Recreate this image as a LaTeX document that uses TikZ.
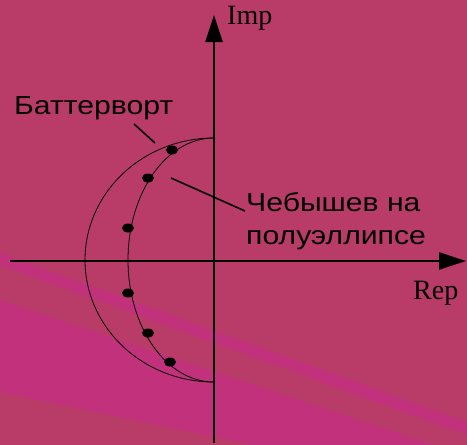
\documentclass[tikz,border=0pt]{standalone}
\usepackage{fontspec}
\setmainfont{Liberation Serif}
\setsansfont{Liberation Sans}
\newfontfamily\labelfont[FakeStretch=1.16]{Liberation Sans}
\usetikzlibrary{arrows.meta,shapes.geometric}

\definecolor{bgrose}{RGB}{185,60,104}
\definecolor{bandrose}{RGB}{194,50,124}

\begin{document}
\begin{tikzpicture}[x=1pt, y=-1pt,
  every node/.style={font=\labelfont\fontsize{26}{33}\selectfont, inner sep=0pt},
  axis/.style={line width=2.4pt, -{Triangle[length=27pt,width=17pt]}},
  curve/.style={line width=0.8pt},
  leader/.style={line width=1.6pt},
  pole/.style={ellipse, fill=black, minimum width=12pt, minimum height=9pt, inner sep=0pt},
  axlabel/.style={font=\rmfamily\fontsize{28}{28}\selectfont, anchor=base west},
]

\useasboundingbox (0,0) rectangle (467,445);
\fill[bgrose] (0,0) rectangle (467,445);
\fill[bandrose] (0,253) -- (467,422) -- (467,435) -- (0,265) -- cycle;
\fill[bandrose] (0,300) -- (433,445) -- (252,445) -- (0,392) -- cycle;

% axes
\coordinate (xstart) at (10,261);
\coordinate (xend) at (466,261);
\coordinate (ystart) at (214,443);
\coordinate (yend) at (214,15);
\draw[axis] (xstart) -- (xend);
\draw[axis] (ystart) -- (yend);

\node[axlabel] (imp) at (227,24) {Imp};
\node[axlabel] (rep) at (413,299) {Rep};

% Butterworth circle and Chebyshev semi-ellipse
\draw[curve] (214,138) arc[start angle=90, end angle=270, x radius=129pt, y radius=122pt];
\draw[curve] (214,138) arc[start angle=90, end angle=270, x radius=86pt, y radius=122pt];

\node[pole] (p1) at (172,150) {};
\node[pole] (p2) at (148,178) {};
\node[pole] (p3) at (128,228) {};
\node[pole] (p4) at (128,293) {};
\node[pole] (p5) at (148,333) {};
\node[pole] (p6) at (170,362) {};

\node[anchor=base west] (butter) at (14,114) {Баттерворт};
\node[anchor=north west, align=left] (cheb) at (246,192) {Чебышев на\\полуэллипсе};

\coordinate (bwtip) at (134,124);
\coordinate (bwarc) at (155,143);
\coordinate (chtip) at (245,211);
\coordinate (charea) at (171,178);
\draw[leader] (bwtip) -- (bwarc);
\draw[leader] (charea) -- (chtip);

\end{tikzpicture}
\end{document}
